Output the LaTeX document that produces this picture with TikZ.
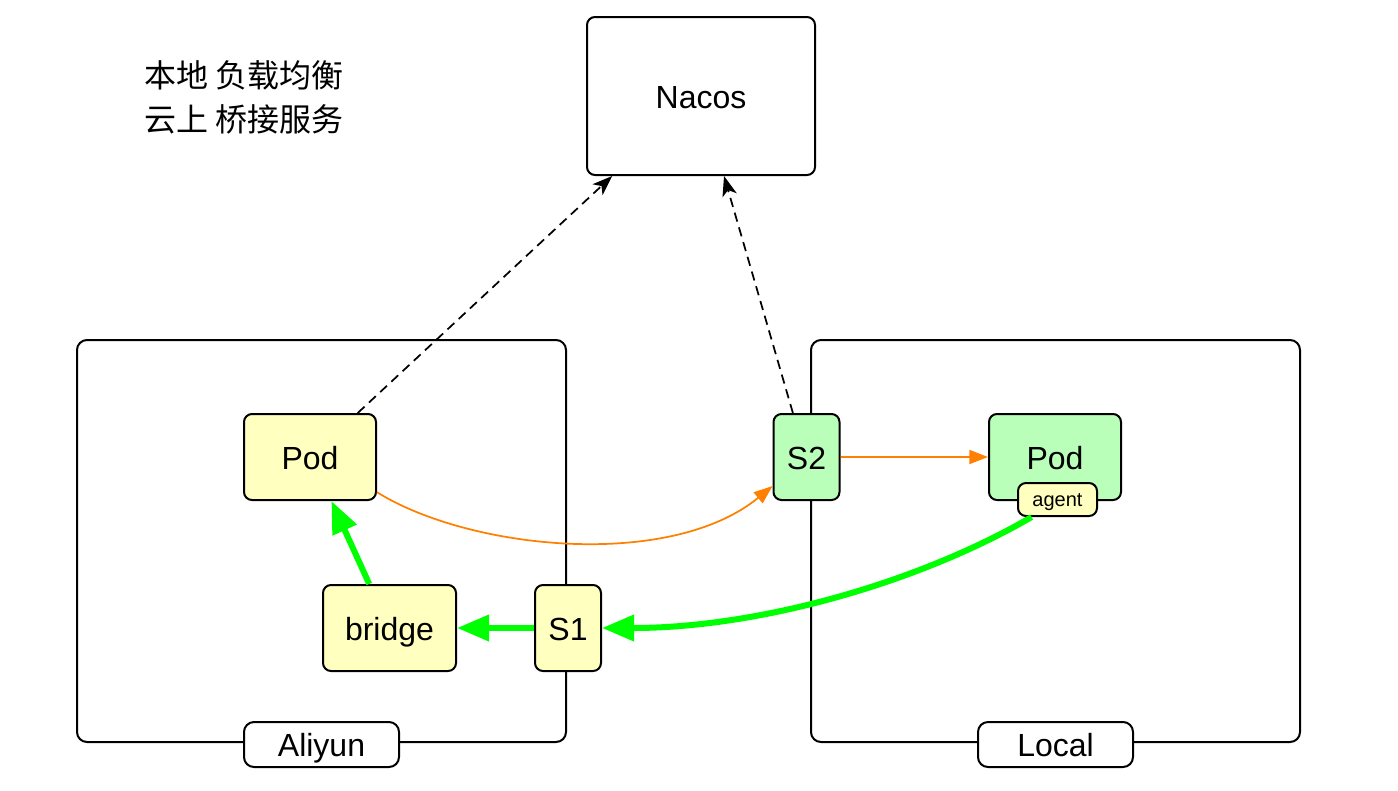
\documentclass[tikz,border=0pt]{standalone}
\usepackage{fontspec}
\setmainfont{Liberation Sans}
\newfontfamily\cjkfont{Noto Sans CJK SC}
\usetikzlibrary{arrows.meta,calc}
\definecolor{podyellow}{HTML}{FFFFC0}
\definecolor{podgreen}{HTML}{B9FFB9}
\definecolor{flowgreen}{HTML}{00FF00}
\definecolor{floworange}{HTML}{FF8000}
\begin{document}
\begin{tikzpicture}[x=0.75pt,y=-0.75pt,
  box/.style={draw=black, line width=1.5pt, rounded corners=6pt, inner sep=0pt,
    font=\fontsize{24pt}{28pt}\selectfont, text height=22pt, text depth=4pt},
  container/.style={draw=black, line width=1.5pt, rounded corners=7.5pt,
    minimum width=366.75pt, minimum height=301.5pt, inner sep=0pt},
  tag/.style={box, fill=white, rounded corners=7.5pt, minimum width=116.25pt, minimum height=33.75pt},
  ypod/.style={box, fill=podyellow, minimum width=99pt, minimum height=64.5pt},
  gpod/.style={box, fill=podgreen, minimum width=99pt, minimum height=64.5pt},
  svc/.style={box, minimum width=49.5pt, minimum height=64.5pt},
  dashlink/.style={draw=black, line width=1.3pt, dash pattern=on 7pt off 4.5pt,
    -{Stealth[length=15pt,width=11pt,inset=4pt]}},
  orangelink/.style={draw=floworange, line width=1.3pt, -{Triangle[length=14pt,width=10.5pt]}},
  greenlink/.style={draw=flowgreen, line width=4.5pt, -{Triangle[length=24pt,width=19pt]}}
]
\useasboundingbox (0,0) rectangle (1398,790);

% containers
\node[container] (aliyun) at (321.5,541) {};
\node[container] (local) at (1055.5,541) {};
\node[tag] (aliyuntag) at (321.5,744.5) {Aliyun};
\node[tag] (localtag) at (1055.5,744.5) {Local};

% title text
\node[anchor=west, align=left, inner sep=0pt,
  font=\cjkfont\fontsize{24pt}{33pt}\selectfont] (title) at (144,97)
  {本地 负载均衡\\云上 桥接服务};

% nodes
\node[box, fill=white, minimum width=171pt, minimum height=118.5pt] (nacos) at (701,96) {Nacos};
\node[ypod] (podL) at (310,457) {Pod};
\node[box, fill=podyellow, minimum width=99.75pt, minimum height=64.5pt] (bridge) at (389.5,628) {bridge};
\node[svc, fill=podyellow] (s1) at (568,628) {S1};
\node[svc, fill=podgreen] (s2) at (806.5,457) {S2};
\node[gpod] (podR) at (1055,457) {Pod};
\node[box, fill=podyellow, rounded corners=6pt, minimum width=59.25pt, minimum height=24.75pt,
  font=\fontsize{15pt}{18pt}\selectfont, text height=12pt, text depth=1.5pt] (agent) at (1057.5,499.5) {agent};

% connectors
\draw[dashlink] ($(podL.north west)!0.856!(podL.north east)$) -- ($(nacos.south west)!0.114!(nacos.south east)$);
\draw[dashlink] ($(s2.north west)!0.3!(s2.north east)$) -- ($(nacos.south west)!0.6!(nacos.south east)$);
\draw[orangelink] ($(podL.north east)!0.9!(podL.south east)$)
  .. controls (470,550) and (670,570) .. ($(s2.north west)!0.83!(s2.south west)$);
\draw[orangelink] (s2.east) -- (podR.west);
\draw[greenlink] ($(agent.south west)!0.18!(agent.south east)$)
  .. controls (920,582) and (760,628) .. (s1.east);
\draw[greenlink] (s1.west) -- (bridge.east);
\draw[greenlink] ($(bridge.north west)!0.35!(bridge.north east)$) -- ($(podL.south west)!0.66!(podL.south east)$);
\end{tikzpicture}
\end{document}
